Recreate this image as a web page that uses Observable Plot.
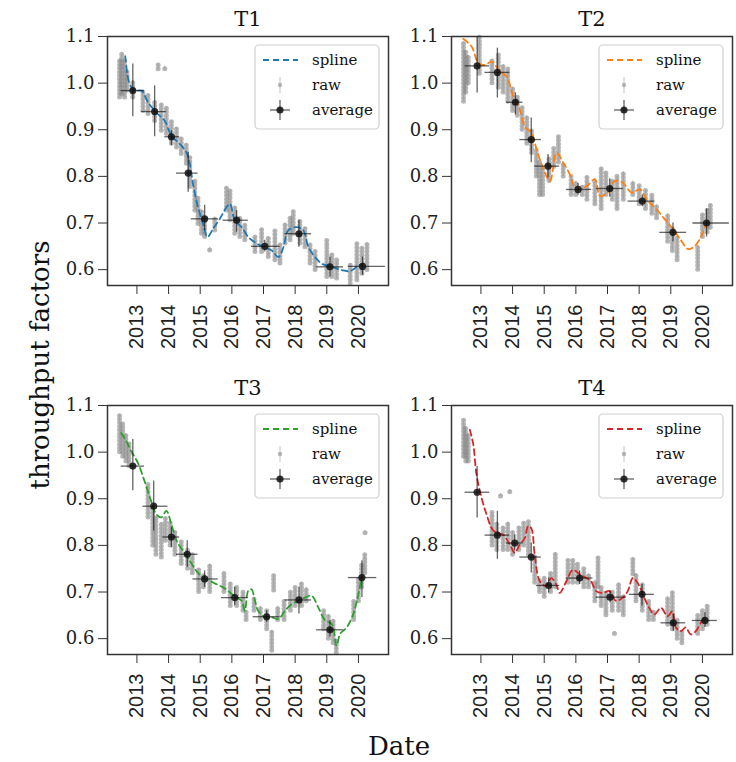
<!DOCTYPE html>
<html>
<head>
<meta charset="utf-8">
<script src="https://cdn.jsdelivr.net/npm/d3@7"></script>
<script src="https://cdn.jsdelivr.net/npm/@observablehq/plot@0.6"></script>
<style>
  html, body { margin: 0; padding: 0; background: #fff; }
  #fig { position: relative; width: 736px; height: 762px; background: #fff; overflow: hidden; }
  .panel { position: absolute; }
  .lbl { position: absolute; font-family: "DejaVu Serif", serif; color: #111; white-space: nowrap; }
</style>
</head>
<body>
<div id="fig"></div>
<script>
// ---------- data ----------
const years = [2013, 2014, 2015, 2016, 2017, 2018, 2019, 2020];
const yTicks = [0.6, 0.7, 0.8, 0.9, 1.0, 1.1];
const panelTitles = ["T1", "T2", "T3", "T4"];
const splineColors = ["#1f77b4", "#ff7f0e", "#2ca02c", "#d62728"];
const legendLabels = ["spline", "raw", "average"];
const xLabel = "Date";
const yLabel = "throughput factors";

// spline: [year, value]
const t1Spline = [[2012.63,1.058],[2012.77,0.998],[2012.93,0.984],[2013.14,0.984],[2013.35,0.959],[2013.61,0.937],[2013.88,0.919],[2014.09,0.887],[2014.35,0.870],[2014.56,0.852],[2014.67,0.827],[2014.77,0.784],[2014.93,0.734],[2015.09,0.698],[2015.23,0.670],[2015.41,0.688],[2015.62,0.709],[2015.83,0.734],[2015.94,0.741],[2016.09,0.706],[2016.31,0.691],[2016.52,0.670],[2016.78,0.656],[2017.04,0.648],[2017.26,0.641],[2017.47,0.627],[2017.63,0.648],[2017.78,0.684],[2018.05,0.691],[2018.26,0.684],[2018.42,0.648],[2018.63,0.627],[2018.84,0.613],[2019.16,0.606],[2019.47,0.599],[2019.74,0.597],[2020.00,0.609],[2020.16,0.613]];
const t2Spline = [[2012.44,1.095],[2012.71,1.078],[2012.92,1.043],[2013.13,1.039],[2013.34,1.046],[2013.60,1.025],[2013.81,1.014],[2014.02,0.972],[2014.23,0.943],[2014.39,0.907],[2014.60,0.893],[2014.76,0.858],[2014.95,0.820],[2015.18,0.790],[2015.39,0.850],[2015.60,0.830],[2015.81,0.804],[2016.02,0.772],[2016.34,0.779],[2016.60,0.794],[2016.76,0.758],[2017.00,0.765],[2017.23,0.790],[2017.49,0.786],[2017.76,0.765],[2018.02,0.772],[2018.23,0.751],[2018.55,0.729],[2018.86,0.704],[2019.07,0.687],[2019.30,0.665],[2019.55,0.644],[2019.75,0.650],[2019.95,0.670],[2020.13,0.700]];
const t3Spline = [[2012.50,1.041],[2012.66,1.024],[2012.82,1.002],[2013.03,0.977],[2013.24,0.938],[2013.45,0.895],[2013.61,0.867],[2013.77,0.860],[2013.93,0.874],[2014.09,0.845],[2014.25,0.810],[2014.46,0.788],[2014.67,0.767],[2014.88,0.745],[2015.09,0.731],[2015.30,0.724],[2015.51,0.717],[2015.72,0.710],[2015.94,0.699],[2016.15,0.688],[2016.31,0.681],[2016.41,0.660],[2016.52,0.703],[2016.62,0.706],[2016.73,0.681],[2016.83,0.660],[2017.04,0.646],[2017.26,0.646],[2017.47,0.642],[2017.68,0.660],[2017.89,0.674],[2018.10,0.681],[2018.31,0.688],[2018.52,0.692],[2018.73,0.667],[2018.95,0.639],[2019.16,0.631],[2019.31,0.585],[2019.42,0.610],[2019.63,0.624],[2019.84,0.653],[2019.95,0.681],[2020.11,0.731]];
const t4Spline = [[2012.65,1.048],[2012.76,1.016],[2012.86,0.952],[2013.02,0.902],[2013.18,0.866],[2013.34,0.837],[2013.49,0.827],[2013.70,0.823],[2013.91,0.802],[2014.07,0.784],[2014.23,0.802],[2014.39,0.816],[2014.49,0.841],[2014.59,0.837],[2014.70,0.780],[2014.86,0.723],[2015.07,0.713],[2015.22,0.730],[2015.38,0.716],[2015.49,0.698],[2015.70,0.723],[2015.91,0.748],[2016.12,0.738],[2016.33,0.730],[2016.48,0.723],[2016.64,0.702],[2016.85,0.698],[2017.06,0.702],[2017.27,0.681],[2017.48,0.688],[2017.64,0.702],[2017.80,0.730],[2017.95,0.720],[2018.16,0.688],[2018.32,0.666],[2018.48,0.652],[2018.69,0.666],[2018.90,0.648],[2019.05,0.659],[2019.16,0.624],[2019.32,0.616],[2019.47,0.624],[2019.63,0.609],[2019.79,0.616],[2019.95,0.634],[2020.05,0.645]];

// average: [year, value, xLow, xHigh, yLow, yHigh]
const t1Avg = [[2012.87,0.984,2012.50,2013.24,0.928,1.041],[2013.56,0.939,2013.14,2013.93,0.885,0.994],[2014.09,0.885,2013.88,2014.35,0.866,0.898],[2014.62,0.807,2014.25,2014.93,0.766,0.852],[2015.14,0.709,2014.72,2015.57,0.684,0.738],[2016.15,0.706,2015.72,2016.52,0.680,0.727],[2017.04,0.650,2016.62,2017.52,0.638,0.663],[2018.12,0.677,2017.68,2018.52,0.648,0.706],[2019.10,0.606,2018.68,2019.53,0.584,0.627],[2020.13,0.607,2019.68,2020.85,0.588,0.627]];
const t2Avg = [[2012.88,1.037,2012.50,2013.28,0.979,1.100],[2013.52,1.023,2013.13,2013.91,0.968,1.075],[2014.09,0.959,2013.81,2014.33,0.932,0.979],[2014.59,0.879,2014.23,2014.91,0.829,0.925],[2015.12,0.822,2014.70,2015.49,0.797,0.847],[2016.07,0.772,2015.70,2016.50,0.760,0.785],[2017.07,0.774,2016.65,2017.50,0.755,0.795],[2018.10,0.747,2017.65,2018.50,0.735,0.760],[2019.07,0.680,2018.65,2019.50,0.660,0.700],[2020.13,0.700,2019.70,2020.85,0.670,0.730]];
const t3Avg = [[2012.87,0.970,2012.50,2013.24,0.917,1.027],[2013.53,0.884,2013.19,2013.98,0.831,0.938],[2014.09,0.818,2013.82,2014.35,0.795,0.838],[2014.59,0.781,2014.25,2014.93,0.753,0.810],[2015.14,0.728,2014.77,2015.57,0.710,0.745],[2016.09,0.688,2015.67,2016.52,0.671,0.710],[2017.10,0.647,2016.67,2017.52,0.635,0.660],[2018.12,0.683,2017.68,2018.52,0.653,0.710],[2019.10,0.619,2018.68,2019.53,0.603,0.639],[2020.11,0.731,2019.68,2020.58,0.688,0.767]];
const t4Avg = [[2012.88,0.914,2012.50,2013.28,0.859,0.969],[2013.52,0.822,2013.13,2013.91,0.770,0.873],[2014.07,0.805,2013.81,2014.33,0.788,0.823],[2014.59,0.775,2014.23,2014.91,0.741,0.805],[2015.14,0.714,2014.75,2015.49,0.698,0.730],[2016.12,0.730,2015.70,2016.54,0.716,0.745],[2017.08,0.689,2016.64,2017.59,0.677,0.702],[2018.09,0.695,2017.69,2018.48,0.670,0.716],[2019.08,0.634,2018.69,2019.47,0.616,0.652],[2020.08,0.639,2019.68,2020.47,0.624,0.656]];

// raw measurement streaks: [year, lowest value, highest value]
const t1Raw = [[2012.45,0.969,1.051],[2012.52,0.976,1.062],[2012.61,0.969,1.048],[2012.69,0.984,1.026],[2012.87,0.969,1.005],[2013.19,0.941,0.987],[2013.35,0.934,0.976],[2013.56,0.919,0.959],[2013.67,1.030,1.041],[2013.88,1.030,1.037],[2013.77,0.898,0.955],[2013.93,0.891,0.948],[2014.09,0.870,0.919],[2014.25,0.862,0.905],[2014.40,0.848,0.884],[2014.56,0.827,0.870],[2014.67,0.777,0.841],[2014.83,0.727,0.791],[2014.93,0.698,0.755],[2015.04,0.677,0.727],[2015.14,0.670,0.713],[2015.30,0.641,0.648],[2015.46,0.684,0.713],[2015.83,0.727,0.777],[2015.94,0.706,0.770],[2016.09,0.677,0.734],[2016.25,0.670,0.713],[2016.41,0.663,0.698],[2016.73,0.638,0.670],[2016.94,0.638,0.688],[2017.15,0.627,0.670],[2017.36,0.620,0.684],[2017.52,0.613,0.656],[2017.68,0.656,0.698],[2017.84,0.663,0.713],[2017.94,0.677,0.727],[2018.15,0.656,0.706],[2018.31,0.648,0.691],[2018.47,0.613,0.656],[2018.63,0.599,0.641],[2019.00,0.584,0.663],[2019.16,0.584,0.634],[2019.31,0.581,0.620],[2019.74,0.570,0.613],[2019.95,0.577,0.656],[2020.11,0.591,0.648],[2020.27,0.599,0.656]];
const t2Raw = [[2012.45,0.960,1.090],[2012.52,0.980,1.070],[2012.60,1.000,1.060],[2012.95,1.020,1.100],[2013.35,1.000,1.050],[2013.55,0.990,1.060],[2013.70,0.980,1.040],[2013.85,0.960,1.030],[2014.00,0.940,0.990],[2014.15,0.930,0.970],[2014.30,0.900,0.950],[2014.45,0.870,0.930],[2014.60,0.850,0.900],[2014.75,0.800,0.860],[2014.85,0.760,0.830],[2014.95,0.760,0.820],[2015.15,0.790,0.840],[2015.30,0.820,0.860],[2015.45,0.830,0.885],[2015.60,0.800,0.830],[2015.85,0.760,0.800],[2016.00,0.760,0.790],[2016.20,0.760,0.780],[2016.35,0.750,0.800],[2016.60,0.740,0.790],[2016.80,0.730,0.820],[2016.95,0.760,0.810],[2017.15,0.750,0.790],[2017.30,0.730,0.800],[2017.50,0.750,0.810],[2017.80,0.760,0.790],[2018.00,0.740,0.780],[2018.20,0.730,0.770],[2018.40,0.720,0.760],[2018.55,0.710,0.740],[2018.90,0.660,0.720],[2019.05,0.640,0.690],[2019.20,0.620,0.670],[2019.85,0.600,0.650],[2020.00,0.670,0.720],[2020.15,0.680,0.730],[2020.25,0.690,0.740]];
const t3Raw = [[2012.45,1.000,1.080],[2012.55,0.990,1.060],[2012.65,0.980,1.040],[2012.75,0.970,1.020],[2013.35,0.860,0.930],[2013.50,0.800,0.880],[2013.60,0.780,0.860],[2013.77,0.774,0.850],[2013.90,0.810,0.860],[2014.05,0.800,0.850],[2014.20,0.780,0.830],[2014.40,0.760,0.810],[2014.60,0.750,0.790],[2014.75,0.740,0.780],[2014.95,0.700,0.750],[2015.10,0.710,0.740],[2015.30,0.700,0.760],[2015.75,0.700,0.740],[2015.95,0.670,0.720],[2016.15,0.670,0.710],[2016.35,0.660,0.700],[2016.45,0.640,0.660],[2016.70,0.660,0.690],[2016.90,0.640,0.670],[2017.10,0.620,0.660],[2017.26,0.574,0.617],[2017.32,0.703,0.738],[2017.45,0.640,0.670],[2017.65,0.640,0.680],[2017.85,0.660,0.700],[2018.00,0.670,0.710],[2018.20,0.670,0.720],[2018.35,0.680,0.710],[2018.90,0.620,0.660],[2019.05,0.600,0.650],[2019.20,0.590,0.640],[2019.30,0.570,0.600],[2019.85,0.640,0.680],[2020.00,0.680,0.730],[2020.10,0.710,0.760],[2020.20,0.740,0.780],[2020.21,0.826,0.831]];
const t4Raw = [[2012.45,0.990,1.070],[2012.52,0.980,1.050],[2012.60,0.980,1.040],[2013.35,0.800,0.870],[2013.50,0.790,0.850],[2013.62,0.905,0.912],[2013.70,0.790,0.840],[2013.85,0.790,0.850],[2013.91,0.914,0.919],[2014.00,0.780,0.830],[2014.20,0.790,0.840],[2014.35,0.800,0.850],[2014.50,0.780,0.850],[2014.70,0.720,0.780],[2014.85,0.700,0.730],[2015.00,0.690,0.730],[2015.20,0.700,0.740],[2015.35,0.710,0.784],[2015.75,0.720,0.770],[2015.90,0.720,0.770],[2016.05,0.720,0.760],[2016.25,0.710,0.750],[2016.40,0.710,0.740],[2016.60,0.680,0.720],[2016.70,0.710,0.775],[2016.80,0.670,0.710],[2016.95,0.650,0.700],[2017.15,0.660,0.700],[2017.22,0.610,0.615],[2017.35,0.660,0.720],[2017.50,0.650,0.690],[2017.80,0.738,0.773],[2017.90,0.680,0.740],[2018.10,0.660,0.720],[2018.30,0.640,0.680],[2018.45,0.640,0.660],[2018.90,0.630,0.690],[2019.05,0.620,0.700],[2019.20,0.600,0.640],[2019.35,0.590,0.620],[2019.85,0.610,0.650],[2020.00,0.620,0.660],[2020.15,0.630,0.670]];

const panels = [
  {spline: t1Spline, avg: t1Avg, raw: t1Raw},
  {spline: t2Spline, avg: t2Avg, raw: t2Raw},
  {spline: t3Spline, avg: t3Avg, raw: t3Raw},
  {spline: t4Spline, avg: t4Avg, raw: t4Raw}
];

// ---------- layout ----------
const W = 351, H = 355, ML = 60, MR = 10, MT = 36, MB = 70;
const placements = [[47, 0], [391, 0], [47, 369], [391, 369]];
const serif = "DejaVu Serif";

const fig = document.getElementById("fig");

panels.forEach((p, i) => {
  const color = splineColors[i];
  const svg = Plot.plot({
    width: W, height: H,
    marginLeft: ML, marginRight: MR, marginTop: MT, marginBottom: MB,
    style: {fontFamily: serif, background: "transparent", overflow: "visible", color: "#222"},
    x: {domain: [2012.07, 2020.95]},
    y: {domain: [0.566, 1.1]},
    marks: [
      // faint raw error bars
      Plot.ruleX(p.raw, {x: d => d[0], y1: d => d[1], y2: d => d[2], stroke: "#999", strokeOpacity: 0.35, strokeWidth: 1.4}),
      // raw points (dotted streaks)
      Plot.ruleX(p.raw, {x: d => d[0], y1: d => d[1], y2: d => d[2], stroke: "#7a7a7a", strokeOpacity: 0.55, strokeWidth: 5, strokeLinecap: "round", strokeDasharray: "0,3.6"}),
      Plot.line(p.spline, {x: d => d[0], y: d => d[1], stroke: color, strokeWidth: 1.8, strokeDasharray: "6,4", curve: "catmull-rom"}),
      Plot.ruleY(p.avg, {y: d => d[1], x1: d => d[2], x2: d => d[3], stroke: "#111", strokeOpacity: 0.65, strokeWidth: 1.3}),
      Plot.ruleX(p.avg, {x: d => d[0], y1: d => d[4], y2: d => d[5], stroke: "#111", strokeOpacity: 0.65, strokeWidth: 1.3}),
      Plot.dot(p.avg, {x: d => d[0], y: d => d[1], r: 3.6, fill: "#111", fillOpacity: 0.85, stroke: "none"}),
      Plot.frame({stroke: "#333", strokeWidth: 1.5}),
      Plot.axisX(years, {tickFormat: d => String(d), tickRotate: -90, tickSize: 9, tickPadding: 10, fontSize: 20, fontFamily: "Liberation Sans", label: null, stroke: "#333", fill: "#222"}),
      Plot.axisY(yTicks, {tickFormat: d => d.toFixed(1), tickSize: 9, tickPadding: 4, fontSize: 18, fontFamily: serif, label: null, stroke: "#333", fill: "#222"}),
      Plot.text([panelTitles[i]], {frameAnchor: "top", lineAnchor: "bottom", dy: -11, fontSize: 21, fontFamily: serif, fill: "#111"})
    ]
  });

  // legend (upper right inside the frame)
  const bw = 124, bh = 84;
  const bx = W - MR - 9 - bw, by = MT + 9;
  const g = d3.select(svg).append("g").attr("font-family", serif).attr("font-size", 15).attr("text-anchor", "start");
  g.append("rect").attr("x", bx).attr("y", by).attr("width", bw).attr("height", bh)
    .attr("rx", 4).attr("fill", "#fff").attr("fill-opacity", 0.85).attr("stroke", "#cfcfcf").attr("stroke-width", 1.2);
  const rows = [by + 15, by + 40, by + 65];
  const mx = bx + 25;
  g.append("line").attr("x1", bx + 8).attr("x2", bx + 43).attr("y1", rows[0]).attr("y2", rows[0])
    .attr("stroke", color).attr("stroke-width", 1.8).attr("stroke-dasharray", "6,4");
  g.append("line").attr("x1", mx).attr("x2", mx).attr("y1", rows[1] - 8).attr("y2", rows[1] + 8)
    .attr("stroke", "#999").attr("stroke-opacity", 0.6).attr("stroke-width", 1);
  g.append("circle").attr("cx", mx).attr("cy", rows[1]).attr("r", 2.2).attr("fill", "#999").attr("fill-opacity", 0.7);
  g.append("line").attr("x1", mx - 10).attr("x2", mx + 10).attr("y1", rows[2]).attr("y2", rows[2])
    .attr("stroke", "#111").attr("stroke-opacity", 0.65).attr("stroke-width", 1.3);
  g.append("line").attr("x1", mx).attr("x2", mx).attr("y1", rows[2] - 10).attr("y2", rows[2] + 10)
    .attr("stroke", "#111").attr("stroke-opacity", 0.65).attr("stroke-width", 1.3);
  g.append("circle").attr("cx", mx).attr("cy", rows[2]).attr("r", 3.6).attr("fill", "#111").attr("fill-opacity", 0.85);
  legendLabels.forEach((t, k) => {
    g.append("text").attr("x", bx + 57).attr("y", rows[k]).attr("dy", "0.35em").attr("text-anchor", "start").attr("fill", "#111").text(t);
  });

  svg.classList.add("panel");
  svg.style.left = placements[i][0] + "px";
  svg.style.top = placements[i][1] + "px";
  fig.appendChild(svg);
});

// shared axis labels
const xl = document.createElement("div");
xl.className = "lbl";
xl.textContent = xLabel;
xl.style.fontSize = "26px";
xl.style.left = "399px";
xl.style.top = "746px";
xl.style.transform = "translate(-50%, -50%)";
fig.appendChild(xl);

const yl = document.createElement("div");
yl.className = "lbl";
yl.textContent = yLabel;
yl.style.fontSize = "26px";
yl.style.left = "40px";
yl.style.top = "365px";
yl.style.transform = "translate(-50%, -50%) rotate(-90deg)";
fig.appendChild(yl);
</script>
</body>
</html>
